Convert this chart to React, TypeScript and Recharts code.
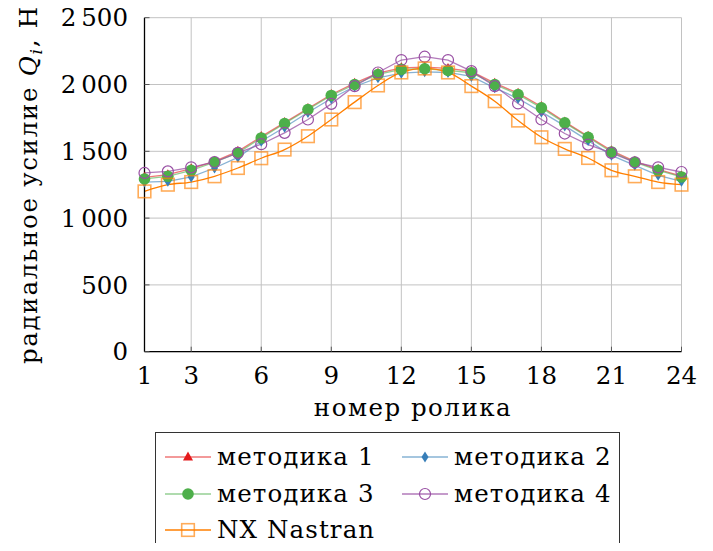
import { LineChart, Line, XAxis, YAxis, CartesianGrid } from "recharts";

// номер ролика
const rollers = [1, 2, 3, 4, 5, 6, 7, 8, 9, 10, 11, 12, 13, 14, 15, 16, 17, 18, 19, 20, 21, 22, 23, 24];

// радиальное усилие, Н
const method1 = [1305, 1325, 1370, 1425, 1500, 1610, 1715, 1820, 1925, 2010, 2085, 2125, 2130, 2120, 2098, 2010, 1935, 1835, 1720, 1612, 1505, 1425, 1365, 1315];
const method2 = [1270, 1275, 1308, 1375, 1455, 1575, 1680, 1790, 1895, 1985, 2050, 2085, 2095, 2090, 2060, 1975, 1895, 1795, 1690, 1580, 1470, 1395, 1320, 1275];
const method3 = [1293, 1313, 1358, 1418, 1488, 1600, 1708, 1813, 1918, 2000, 2075, 2113, 2118, 2105, 2088, 2000, 1925, 1825, 1713, 1605, 1495, 1418, 1358, 1308];
const method4 = [1338, 1350, 1380, 1420, 1488, 1553, 1638, 1738, 1855, 1988, 2090, 2183, 2208, 2183, 2100, 1988, 1858, 1738, 1633, 1550, 1488, 1418, 1380, 1345];
const nastran = [1200, 1250, 1270, 1313, 1375, 1448, 1513, 1613, 1738, 1868, 1993, 2090, 2120, 2090, 1988, 1875, 1730, 1605, 1518, 1450, 1358, 1313, 1270, 1250];

const xTicks = [1, 3, 6, 9, 12, 15, 18, 21, 24];
const yTicks = [0, 500, 1000, 1500, 2000, 2500];

const FONT = '"DejaVu Serif", serif';
const FS = 24.5;

type Kind = "triangle" | "diamond" | "circle" | "ocircle" | "square";

const series: { key: string; name: string; color: string; kind: Kind; smooth: boolean; lineOpacity: number; markOpacity: number }[] = [
  { key: "m1", name: "методика 1", color: "#e41a1c", kind: "triangle", smooth: false, lineOpacity: 0.6, markOpacity: 1 },
  { key: "m2", name: "методика 2", color: "#377eb8", kind: "diamond", smooth: false, lineOpacity: 0.6, markOpacity: 1 },
  { key: "m3", name: "методика 3", color: "#4daf4a", kind: "circle", smooth: false, lineOpacity: 0.6, markOpacity: 1 },
  { key: "m4", name: "методика 4", color: "#984ea3", kind: "ocircle", smooth: false, lineOpacity: 0.75, markOpacity: 1 },
  { key: "nx", name: "NX Nastran", color: "#ff7f00", kind: "square", smooth: true, lineOpacity: 1, markOpacity: 0.65 },
];

const values: Record<string, number[]> = { m1: method1, m2: method2, m3: method3, m4: method4, nx: nastran };

const data = rollers.map((x, i) => {
  const row: Record<string, number> = { x };
  for (const s of series) row[s.key] = values[s.key][i];
  return row;
});

const fmt = (v: number) => {
  const s = String(v);
  return s.length > 3 ? s.slice(0, s.length - 3) + "\u2009" + s.slice(-3) : s;
};

function Marker({ cx, cy, kind, color, opacity }: { cx: number; cy: number; kind: Kind; color: string; opacity: number }) {
  switch (kind) {
    case "triangle":
      return <path d={`M${cx},${cy - 5.5}L${cx + 5},${cy + 3.5}L${cx - 5},${cy + 3.5}Z`} fill={color} />;
    case "diamond":
      return <path d={`M${cx},${cy - 5.5}L${cx + 3.5},${cy}L${cx},${cy + 5.5}L${cx - 3.5},${cy}Z`} fill={color} />;
    case "circle":
      return <circle cx={cx} cy={cy} r={5.8} fill={color} />;
    case "ocircle":
      return <circle cx={cx} cy={cy} r={5.5} fill="none" stroke={color} strokeWidth={1.2} />;
    default:
      return (
        <rect x={cx - 6.3} y={cy - 6.3} width={12.6} height={12.6} fill="none" stroke={color} strokeOpacity={opacity} strokeWidth={1.6} />
      );
  }
}

function YTitle(props: any) {
  const vb = props.viewBox || { x: 0, y: 17.7, width: 144.5, height: 334 };
  const x = vb.x + 37.5;
  const y = vb.y + vb.height / 2;
  return (
    <text
      x={x}
      y={y}
      transform={`rotate(-90, ${x}, ${y})`}
      textAnchor="middle"
      fontFamily={FONT}
      fontSize={FS}
      letterSpacing={1.7}
      fill="#000"
    >
      радиальное усилие <tspan fontStyle="italic">Q</tspan>
      <tspan fontStyle="italic" fontSize={FS * 0.7} dy={5}>i</tspan>
      <tspan dy={-5}>, Н</tspan>
    </text>
  );
}

function XTitle(props: any) {
  const vb = props.viewBox || { x: 144.5, y: 351.7, width: 537, height: 80 };
  return (
    <text
      x={vb.x + vb.width / 2}
      y={vb.y + 64.5}
      textAnchor="middle"
      fontFamily={FONT}
      fontSize={FS}
      letterSpacing={1.5}
      fill="#000"
    >
      номер ролика
    </text>
  );
}

function LegendItem({ s, left, top }: { s: (typeof series)[number]; left: number; top: number }) {
  return (
    <div style={{ position: "absolute", left, top, height: 30, display: "flex", alignItems: "center" }}>
      <svg width={46} height={30} style={{ display: "block" }}>
        <line x1={0} y1={15} x2={46} y2={15} stroke={s.color} strokeOpacity={s.lineOpacity} strokeWidth={1.4} />
        <Marker cx={23} cy={15} kind={s.kind} color={s.color} opacity={s.markOpacity} />
      </svg>
      <span style={{ marginLeft: 6, fontSize: FS, letterSpacing: 1.1, lineHeight: "30px", whiteSpace: "nowrap" }}>{s.name}</span>
    </div>
  );
}

export default function App() {
  const tickStyle = { fontFamily: FONT, fontSize: FS, fill: "#000" };
  return (
    <div style={{ position: "relative", width: 713, height: 551, margin: -8, overflow: "hidden", fontFamily: FONT, background: "#fff" }}>
      <LineChart width={713} height={551} data={data} margin={{ top: 17.7, right: 31.5, bottom: 119.3, left: 0 }}>
        <CartesianGrid stroke="#c2c2c2" strokeWidth={1} />
        <XAxis
          dataKey="x"
          type="number"
          domain={[1, 24]}
          ticks={xTicks}
          interval={0}
          height={80}
          tick={tickStyle}
          tickSize={-5}
          tickMargin={20}
          tickLine={{ stroke: "#555" }}
          axisLine={{ stroke: "#000", strokeWidth: 1.3 }}
          label={<XTitle />}
        />
        <XAxis
          xAxisId="top"
          orientation="top"
          dataKey="x"
          type="number"
          domain={[1, 24]}
          ticks={xTicks}
          height={0}
          tick={false}
          tickSize={-5}
          tickLine={{ stroke: "#555" }}
          axisLine={{ stroke: "#000", strokeWidth: 1.3 }}
        />
        <YAxis
          type="number"
          domain={[0, 2500]}
          ticks={yTicks}
          interval={0}
          width={144.5}
          tick={tickStyle}
          tickFormatter={fmt}
          tickSize={-5}
          tickMargin={21.5}
          tickLine={{ stroke: "#555" }}
          axisLine={{ stroke: "#000", strokeWidth: 1.3 }}
          label={<YTitle />}
        />
        <YAxis
          yAxisId="right"
          orientation="right"
          type="number"
          domain={[0, 2500]}
          ticks={yTicks}
          width={0}
          tick={false}
          tickSize={-5}
          tickLine={{ stroke: "#555" }}
          axisLine={{ stroke: "#000", strokeWidth: 1.3 }}
        />
        {series.map((s) => (
          <Line
            key={s.key}
            dataKey={s.key}
            name={s.name}
            type={s.smooth ? "monotone" : "linear"}
            stroke={s.color}
            strokeOpacity={s.lineOpacity}
            strokeWidth={1.3}
            isAnimationActive={false}
            dot={(p: any) => (
              <Marker key={`${s.key}-${p.index}`} cx={p.cx} cy={p.cy} kind={s.kind} color={s.color} opacity={s.markOpacity} />
            )}
            activeDot={false}
          />
        ))}
      </LineChart>
      <div
        style={{
          position: "absolute",
          left: 155,
          top: 431.5,
          width: 465,
          height: 140,
          border: "1.3px solid #333",
          boxSizing: "border-box",
          background: "#fff",
        }}
      >
        <LegendItem s={series[0]} left={9} top={9.5} />
        <LegendItem s={series[1]} left={246} top={9.5} />
        <LegendItem s={series[2]} left={9} top={46} />
        <LegendItem s={series[3]} left={246} top={46} />
        <LegendItem s={series[4]} left={9} top={82.5} />
      </div>
    </div>
  );
}
